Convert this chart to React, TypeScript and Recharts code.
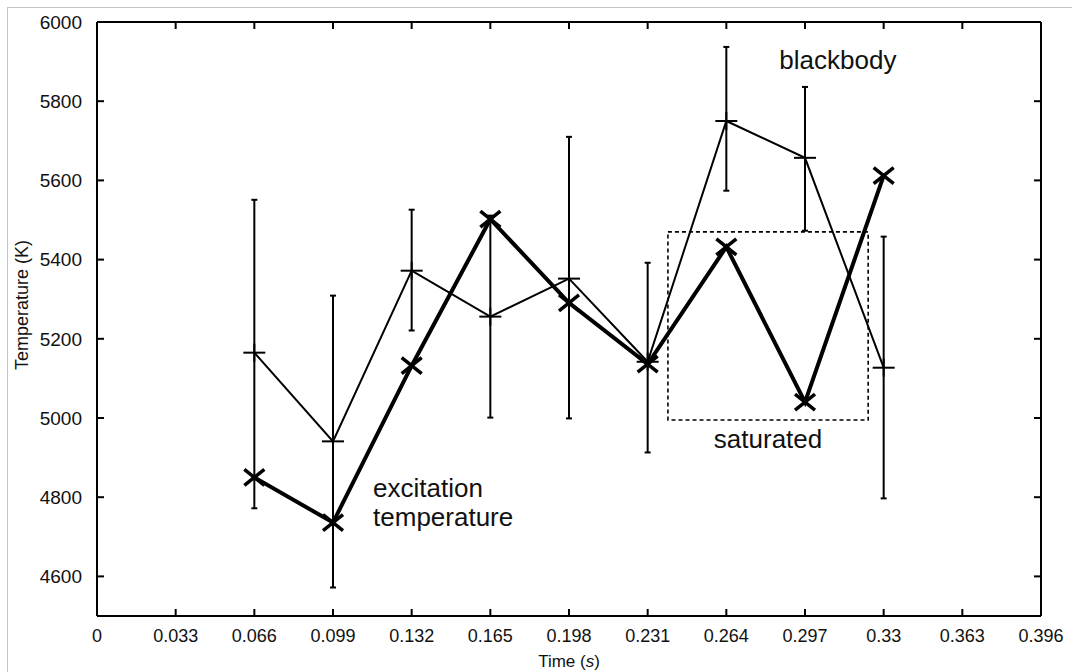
import { ErrorBar, Line, LineChart, ReferenceArea, ReferenceDot, XAxis, YAxis } from 'recharts'

const times = [0.066, 0.099, 0.132, 0.165, 0.198, 0.231, 0.264, 0.297, 0.33]
const blackbody = [5165, 4941, 5372, 5256, 5352, 5142, 5750, 5657, 5127]
const blackbodyErrLow = [393, 369, 151, 255, 353, 229, 176, 184, 330]
const blackbodyErrHigh = [386, 368, 154, 255, 358, 250, 187, 179, 331]
const excitation = [4850, 4736, 5132, 5502, 5291, 5136, 5432, 5040, 5612]

const xTicks = [0, 0.033, 0.066, 0.099, 0.132, 0.165, 0.198, 0.231, 0.264, 0.297, 0.33, 0.363, 0.396]
const yTicks = [4600, 4800, 5000, 5200, 5400, 5600, 5800, 6000]

const data = times.map((time, i) => ({
  time,
  blackbody: blackbody[i],
  bbErr: [blackbodyErrLow[i], blackbodyErrHigh[i]],
  excitation: excitation[i],
}))

const font = 'Liberation Sans, Arial, Helvetica, sans-serif'
const ink = '#111'
const TICK = 7

// ticks point into the plot, so each tick draws its own mark
function BottomTick(props: any) {
  const { x, y, payload } = props
  const axisY = y - 13
  return (
    <g>
      {payload.value !== 0 && payload.value !== 0.396 && (
        <line x1={x} x2={x} y1={axisY} y2={axisY - TICK} stroke="#000" strokeWidth={2} />
      )}
      <text x={x} y={y} dy="0.71em" textAnchor="middle" fontFamily={font} fontSize={18} fill={ink}>
        {String(payload.value)}
      </text>
    </g>
  )
}

function TopTick(props: any) {
  const { x, y, payload } = props
  if (payload.value === 0 || payload.value === 0.396) return <g />
  return <line x1={x} x2={x} y1={y} y2={y + TICK} stroke="#000" strokeWidth={2} />
}

function LeftTick(props: any) {
  const { x, y, payload } = props
  const axisX = x + 15
  return (
    <g>
      {payload.value !== 6000 && <line x1={axisX} x2={axisX + TICK} y1={y} y2={y} stroke="#000" strokeWidth={2} />}
      <text x={x} y={y} dy="0.36em" textAnchor="end" fontFamily={font} fontSize={19} fill={ink}>
        {payload.value}
      </text>
    </g>
  )
}

function RightTick(props: any) {
  const { x, y, payload } = props
  if (payload.value === 6000) return <g />
  return <line x1={x} x2={x - TICK} y1={y} y2={y} stroke="#000" strokeWidth={2} />
}

function PlusDot(props: any) {
  const { cx, cy } = props
  if (cx == null || cy == null) return null
  return (
    <g>
      <line x1={cx - 11} y1={cy} x2={cx + 11} y2={cy} stroke="#000" strokeWidth={2} />
      <line x1={cx} y1={cy - 9} x2={cx} y2={cy + 9} stroke="#000" strokeWidth={2} />
    </g>
  )
}

function CrossDot(props: any) {
  const { cx, cy } = props
  if (cx == null || cy == null) return null
  return (
    <g>
      <line x1={cx - 10} y1={cy - 8} x2={cx + 10} y2={cy + 8} stroke="#000" strokeWidth={3.5} />
      <line x1={cx - 10} y1={cy + 8} x2={cx + 10} y2={cy - 8} stroke="#000" strokeWidth={3.5} />
    </g>
  )
}

function note(text: string, anchor: 'start' | 'middle') {
  return {
    content: (p: any) => (
      <text
        x={p.viewBox.x + (p.viewBox.width || 0) / 2}
        y={p.viewBox.y + (p.viewBox.height || 0) / 2}
        textAnchor={anchor}
        dominantBaseline="central"
        fontFamily={font}
        fontSize={26}
        fill={ink}
      >
        {text}
      </text>
    ),
  }
}

export default function App() {
  return (
    <div style={{ position: 'absolute', left: 0, top: 0, width: 1072, height: 672, background: '#fff' }}>
      <div
        style={{
          position: 'absolute',
          left: 7,
          top: 7,
          right: 0,
          bottom: 0,
          borderTop: '1px solid #c4c4c4',
          borderLeft: '1px solid #c4c4c4',
        }}
      />
      <div style={{ position: 'absolute', left: 0, top: 0 }}>
        <LineChart width={1072} height={672} data={data} margin={{ top: 21, right: 30, left: 0, bottom: 0 }}>
          <XAxis
            xAxisId="bottom"
            dataKey="time"
            type="number"
            domain={[0, 0.396]}
            ticks={xTicks}
            allowDataOverflow
            interval={0}
            height={56}
            axisLine={{ stroke: '#000', strokeWidth: 2 }}
            tickLine={false}
            tickSize={0}
            tickMargin={13}
            tick={<BottomTick />}
            label={{
              content: (p: any) => (
                <text
                  x={p.viewBox.x + p.viewBox.width / 2}
                  y={p.viewBox.y + 51}
                  textAnchor="middle"
                  fontFamily={font}
                  fontSize={17}
                  fill={ink}
                >
                  Time (<tspan fontStyle="italic">s</tspan>)
                </text>
              ),
            }}
          />
          <XAxis
            xAxisId="top"
            orientation="top"
            dataKey="time"
            type="number"
            domain={[0, 0.396]}
            ticks={xTicks}
            allowDataOverflow
            interval={0}
            height={1}
            axisLine={{ stroke: '#000', strokeWidth: 2 }}
            tickLine={false}
            tickSize={0}
            tickMargin={0}
            tick={<TopTick />}
          />
          <YAxis
            yAxisId="left"
            type="number"
            domain={[4500, 6000]}
            ticks={yTicks}
            allowDataOverflow
            interval={0}
            width={97}
            axisLine={{ stroke: '#000', strokeWidth: 2 }}
            tickLine={false}
            tickSize={0}
            tickMargin={15}
            tick={<LeftTick />}
            label={{
              content: () => (
                <text
                  x={22}
                  y={305}
                  transform="rotate(-90 22 305)"
                  textAnchor="middle"
                  dominantBaseline="central"
                  fontFamily={font}
                  fontSize={18}
                  fill={ink}
                >
                  Temperature (K)
                </text>
              ),
            }}
          />
          <YAxis
            yAxisId="right"
            orientation="right"
            type="number"
            domain={[4500, 6000]}
            ticks={yTicks}
            allowDataOverflow
            interval={0}
            width={1}
            axisLine={{ stroke: '#000', strokeWidth: 2 }}
            tickLine={false}
            tickSize={0}
            tickMargin={0}
            tick={<RightTick />}
          />
          <ReferenceArea
            xAxisId="bottom"
            yAxisId="left"
            x1={0.2395}
            x2={0.3235}
            y1={4995}
            y2={5470}
            fill="none"
            fillOpacity={0}
            stroke="#000"
            strokeWidth={1.6}
            strokeDasharray="4 3"
          />
          <Line
            xAxisId="bottom"
            yAxisId="left"
            dataKey="blackbody"
            stroke="#000"
            strokeWidth={2}
            dot={<PlusDot />}
            activeDot={false}
            isAnimationActive={false}
          >
            <ErrorBar dataKey="bbErr" direction="y" width={3} stroke="#000" strokeWidth={2} isAnimationActive={false} />
          </Line>
          <Line
            xAxisId="bottom"
            yAxisId="left"
            dataKey="excitation"
            stroke="#000"
            strokeWidth={4}
            dot={<CrossDot />}
            activeDot={false}
            isAnimationActive={false}
          />
          <ReferenceDot xAxisId="bottom" yAxisId="left" x={0.3108} y={5904} r={0} label={note('blackbody', 'middle')} />
          <ReferenceDot xAxisId="bottom" yAxisId="left" x={0.2815} y={4946} r={0} label={note('saturated', 'middle')} />
          <ReferenceDot xAxisId="bottom" yAxisId="left" x={0.1158} y={4824} r={0} label={note('excitation', 'start')} />
          <ReferenceDot xAxisId="bottom" yAxisId="left" x={0.1158} y={4749} r={0} label={note('temperature', 'start')} />
        </LineChart>
      </div>
    </div>
  )
}
